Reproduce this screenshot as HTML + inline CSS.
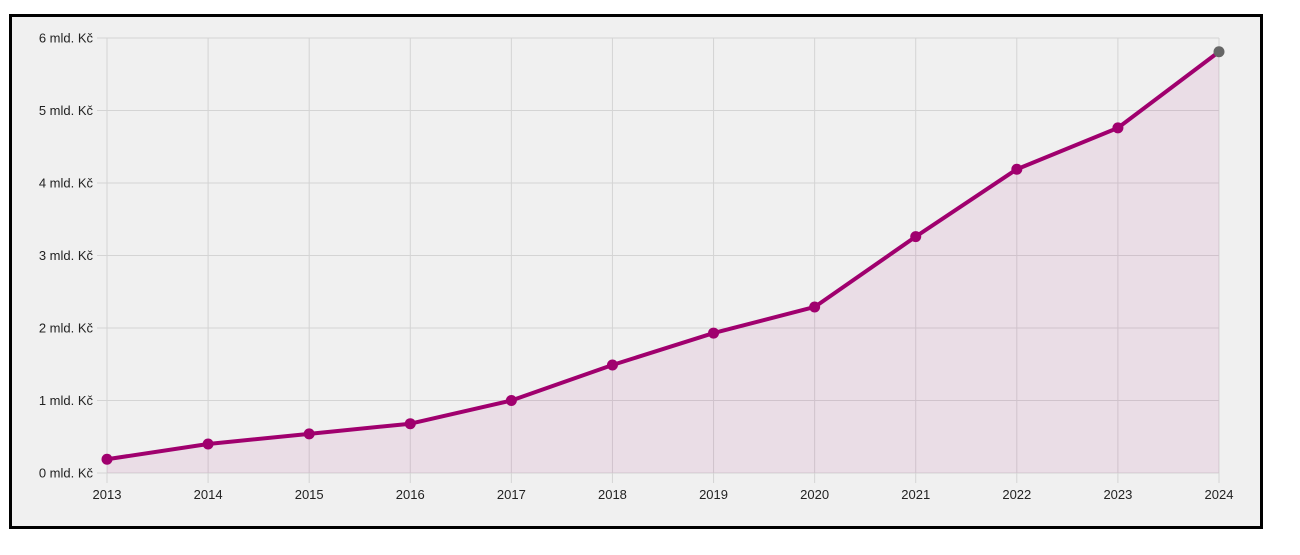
<!DOCTYPE html>
<html><head><meta charset="utf-8"><style>
html,body{margin:0;padding:0;background:#fff;width:1300px;height:555px;overflow:hidden}
#frame{position:absolute;left:9px;top:14px;width:1248px;height:509px;border:3px solid #000;background:#f0f0f0}
svg{position:absolute;left:0;top:0}
text{font-family:"Liberation Sans",sans-serif;font-size:13px;fill:#222}
</style></head><body>
<div id="frame"></div>
<svg width="1300" height="555" id="chart"></svg>
<script>
const years=["2013","2014","2015","2016","2017","2018","2019","2020","2021","2022","2023","2024"];
const values=[0.19,0.4,0.54,0.68,1.0,1.49,1.93,2.29,3.26,4.19,4.76,5.81];
const yTicks=[0,1,2,3,4,5,6];
const yTickLabels=["0 mld. Kč","1 mld. Kč","2 mld. Kč","3 mld. Kč","4 mld. Kč","5 mld. Kč","6 mld. Kč"];
const svg=document.getElementById('chart');const NS='http://www.w3.org/2000/svg';
const x0=107,x1=1219,yB=473,yT=38;
const xs=i=>x0+(x1-x0)*i/(years.length-1);
const ys=v=>yB-(yB-yT)*v/6;
function mk(t,a,p){const e=document.createElementNS(NS,t);for(const k in a)e.setAttribute(k,a[k]);(p||svg).appendChild(e);return e;}
yTicks.forEach((t,i)=>{
 const l=mk('line',{x1:97,x2:x1,y1:ys(t),y2:ys(t),stroke:'#d4d4d4','stroke-width':1});
 
 
 const tx=mk('text',{x:93,y:ys(t)+4.5,'text-anchor':'end'});tx.textContent=yTickLabels[i];
 
 
});
years.forEach((y,i)=>{
 const l=mk('line',{x1:xs(i),x2:xs(i),y1:yT,y2:yB+10,stroke:'#d4d4d4','stroke-width':1});
 
 
 const tx=mk('text',{x:xs(i),y:499,'text-anchor':'middle'});tx.textContent=y;
 
 
});
let pts=values.map((v,i)=>xs(i)+','+ys(v)).join(' ');
const area=mk('polygon',{points:pts+' '+xs(values.length-1)+','+yB+' '+x0+','+yB,fill:'#a0006e','fill-opacity':0.08});


const line=mk('polyline',{points:pts,fill:'none',stroke:'#a0006e','stroke-width':4,'stroke-linejoin':'round'});


values.forEach((v,i)=>{
 const last=i===values.length-1;
 const c=mk('circle',{cx:xs(i),cy:ys(v),r:5.5,fill:last?'#666':'#a0006e'});
 
 
});
</script>
</body></html>
